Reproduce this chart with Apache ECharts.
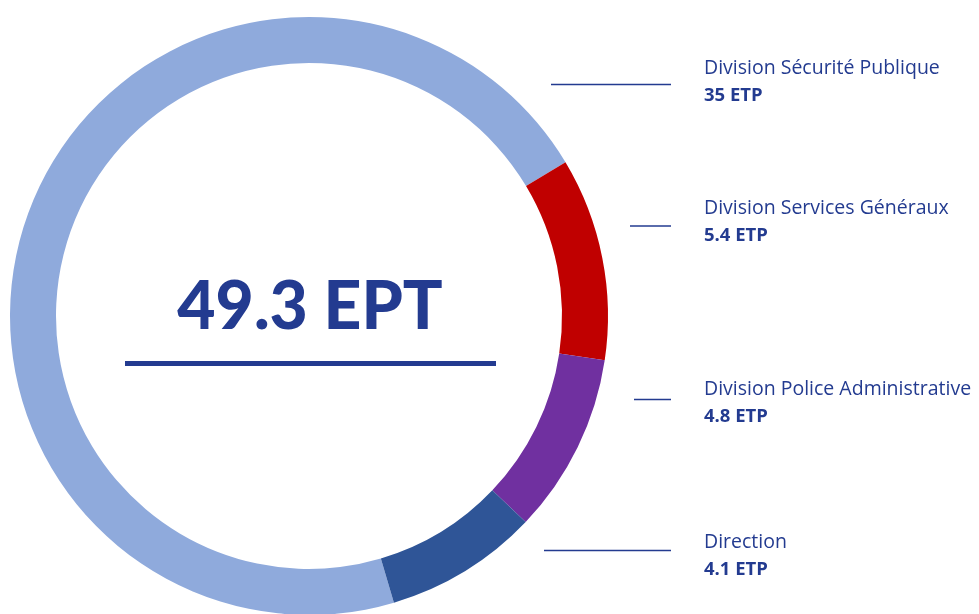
<!DOCTYPE html>
<html>
<head>
<meta charset="utf-8">
<script src="https://cdn.jsdelivr.net/npm/echarts@6/dist/echarts.min.js"></script>
<style>
  html, body { margin: 0; padding: 0; background: #fff; }
  #chart { width: 979px; height: 614px; }
</style>
</head>
<body>
<div id="chart"></div>
<script>
// 数据
const divisions = ['Division Sécurité Publique', 'Division Services Généraux', 'Division Police Administrative', 'Direction']
const etp = [35, 5.4, 4.8, 4.1]
const colors = ['#8faadc', '#c00000', '#7030a0', '#2f5597']

// 标签位置 (名称顶部 y) 与引线
const labelTop = [54, 194, 375, 528]
const lineY = [84.5, 226, 399.5, 550.5]
const lineStartX = [551, 630, 634, 544]

const textColor = '#233b90'
const total = etp.reduce((a, b) => a + b, 0)

const chart = echarts.init(document.getElementById('chart'))

const option = {
  animation: false,
  series: [
    {
      type: 'pie',
      center: [309, 316],
      radius: [253, 299],
      startAngle: -73.5,
      clockwise: true,
      silent: true,
      avoidLabelOverlap: false,
      data: divisions.map((name, i) => ({
        name: name,
        value: etp[i],
        itemStyle: { color: colors[i] }
      })),
      label: {
        show: true,
        position: 'inside',
        formatter: '{n|{b}}\n{v|{c} ETP}',
        rich: {
          n: { fontFamily: 'Open Sans', fontSize: 19.5, color: textColor, lineHeight: 28 },
          v: { fontFamily: 'Open Sans', fontSize: 18.5, fontWeight: 'bold', color: textColor, lineHeight: 27 }
        }
      },
      labelLine: { show: false },
      labelLayout: (params) => ({
        x: 704,
        y: labelTop[params.dataIndex],
        align: 'left',
        verticalAlign: 'top',
        hideOverlap: false
      })
    }
  ],
  graphic: [
    {
      type: 'text',
      style: {
        text: total.toFixed(1) + ' EPT',
        x: 310,
        y: 308,
        align: 'center',
        verticalAlign: 'middle',
        fontFamily: 'Lato',
        fontWeight: 900,
        fontSize: 66,
        fill: textColor
      }
    },
    {
      type: 'rect',
      shape: { x: 125, y: 361, width: 371, height: 5 },
      style: { fill: textColor }
    }
  ].concat(lineY.map((y, i) => ({
    type: 'line',
    shape: { x1: lineStartX[i], y1: y, x2: 671, y2: y },
    style: { stroke: textColor, lineWidth: 1.4 }
  })))
}

chart.setOption(option)
</script>
</body>
</html>
